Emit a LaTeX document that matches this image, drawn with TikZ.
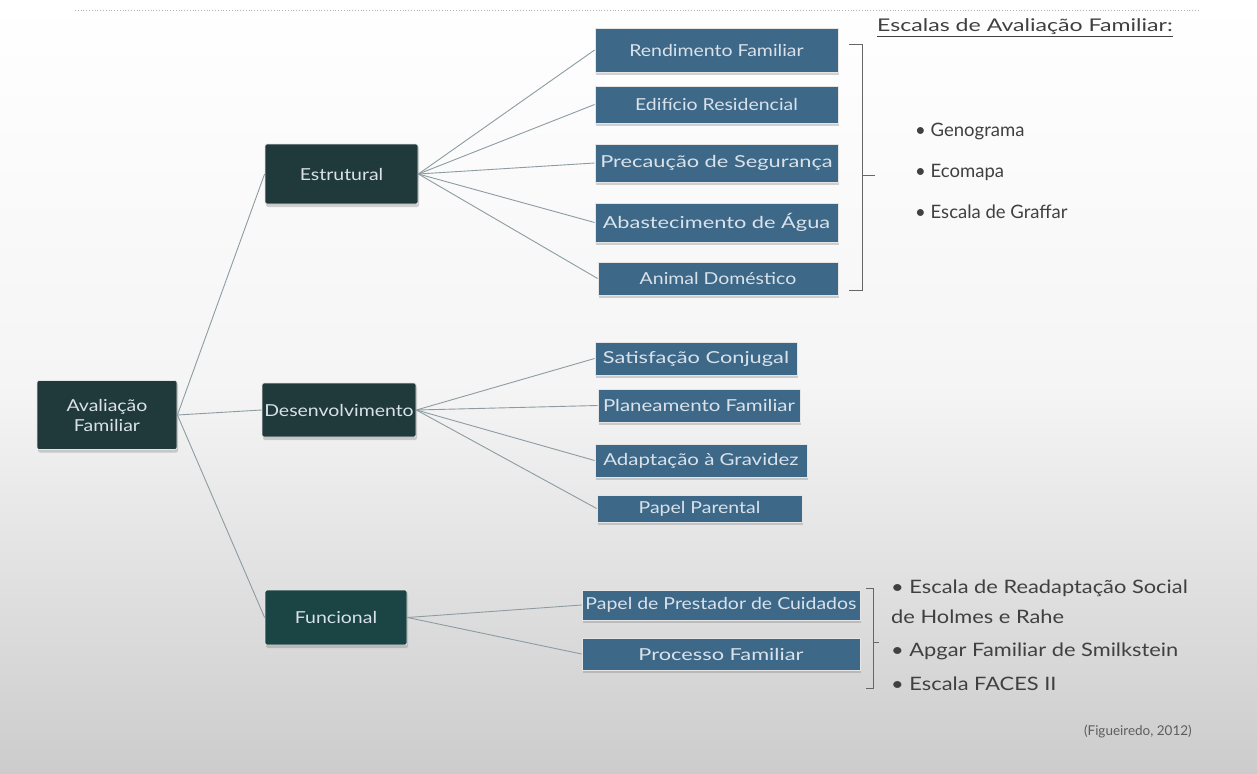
\documentclass[tikz,border=0pt]{standalone}
\usepackage{fontspec}
\setmainfont{Lato}
\newfontfamily\wideA[FakeStretch=1.18]{Lato}
\newfontfamily\wideB[FakeStretch=1.32]{Lato}
\newfontfamily\wideC[FakeStretch=1.24]{Lato}
\usetikzlibrary{shadows}
\definecolor{darkbox}{HTML}{20393A}
\definecolor{bluebox}{HTML}{3D6888}
\definecolor{boxtext}{HTML}{D9E2EA}
\definecolor{linecol}{HTML}{8C9CA2}
\definecolor{txtgray}{HTML}{404040}
\tikzset{
  basebox/.style={rectangle, inner sep=0pt, align=center, text=boxtext,
    draw=white!80!gray, line width=0.8pt,
    drop shadow={shadow xshift=1pt, shadow yshift=-3pt, fill=gray, opacity=0.35}},
  darkbx/.style={basebox, fill=darkbox, rounded corners=2pt, font=\wideA\fontsize{16.5}{20}\selectfont},
  bluebx/.style={basebox, fill=bluebox, font=\wideA\fontsize{16.5}{19}\selectfont},
  widebx/.style={bluebx, font=\wideB\fontsize{16.5}{19}\selectfont},
  midbx/.style={bluebx, font=\wideC\fontsize{16.5}{19}\selectfont},
  conn/.style={draw=linecol, line width=0.9pt},
  brack/.style={draw=txtgray!80, line width=0.9pt},
  bullettxt/.style={anchor=west, inner sep=0pt, text=txtgray, font=\fontsize{18.5}{21}\selectfont},
  bullettxtw/.style={bullettxt, font=\wideA\fontsize{18.5}{21}\selectfont}
}
\begin{document}
\begin{tikzpicture}[x=1pt,y=-1pt]
\useasboundingbox (0,0) rectangle (1257,773);
\shade[top color=white, bottom color=gray!40, middle color=gray!8] (0,0) rectangle (1257,773);
\draw[gray!60, dotted, line width=0.8pt] (75,10) -- (1200,10);

% level 0
\node[darkbx, minimum width=140pt, minimum height=69pt] (av) at (107,415) {Avaliação\\Familiar};
% level 1
\node[darkbx, minimum width=153pt, minimum height=60pt] (es) at (341.5,174) {Estrutural};
\node[darkbx, minimum width=154pt, minimum height=54pt] (de) at (339,410) {Desenvolvimento};
\node[darkbx, minimum width=142pt, minimum height=55pt, fill=darkbox!85!teal] (fu) at (336,617.5) {Funcional};

% Estrutural children
\node[bluebx, minimum width=243pt, minimum height=44pt] (r1) at (716.5,50) {Rendimento Familiar};
\node[bluebx, minimum width=243pt, minimum height=37pt] (r2) at (716.5,104.5) {Edifício Residencial};
\node[widebx, minimum width=243pt, minimum height=38pt] (r3) at (716.5,163) {Precaução de Segurança};
\node[widebx, minimum width=243pt, minimum height=39pt] (r4) at (716.5,222.5) {Abastecimento de Água};
\node[bluebx, minimum width=240pt, minimum height=33pt] (r5) at (718,278.5) {Animal Doméstico};

% Desenvolvimento children
\node[widebx, minimum width=202pt, minimum height=33pt] (d1) at (696,358.5) {Satisfação Conjugal};
\node[midbx, minimum width=202pt, minimum height=33pt] (d2) at (699,405.5) {Planeamento Familiar};
\node[midbx, minimum width=212pt, minimum height=33pt] (d3) at (701,460.5) {Adaptação à Gravidez};
\node[bluebx, minimum width=205pt, minimum height=27pt] (d4) at (699.5,508.5) {Papel Parental};

% Funcional children
\node[bluebx, minimum width=278pt, minimum height=30pt] (f1) at (721,605) {Papel de Prestador de Cuidados};
\node[widebx, minimum width=278pt, minimum height=32pt] (f2) at (721,654) {Processo Familiar};

% connectors
\draw[conn] (av.east) -- (es.west);
\draw[conn] (av.east) -- (de.west);
\draw[conn] (av.east) -- (fu.west);
\foreach \n in {r1,r2,r3,r4,r5} \draw[conn] (es.east) -- (\n.west);
\foreach \n in {d1,d2,d3,d4} \draw[conn] (de.east) -- (\n.west);
\foreach \n in {f1,f2} \draw[conn] (fu.east) -- (\n.west);

% bracket top
\draw[brack] (849,44) -- (862,44) -- (862,290) -- (849,290);
\draw[brack] (862,175) -- (875,175);
% bracket bottom
\draw[brack] (866,588) -- (873,588) -- (873,688) -- (866,688);
\draw[brack] (873,642) -- (879,642);

% texts
\node[anchor=west, inner sep=0pt, text=txtgray, font=\wideB\fontsize{17.5}{20}\selectfont] (hd) at (877,28) {\underline{Escalas de Avaliação Familiar:}};
\node[bullettxt] (b1) at (915,131) {• Genograma};
\node[bullettxt] (b2) at (915,172) {• Ecomapa};
\node[bullettxt] (b3) at (915,212) {• Escala de Graffar};

\node[bullettxtw] (c1) at (891,588) {• Escala de Readaptação Social};
\node[bullettxtw] (c2) at (891,617) {de Holmes e Rahe};
\node[bullettxtw] (c3) at (891,651) {• Apgar Familiar de Smilkstein};
\node[bullettxtw] (c4) at (891,684) {• Escala FACES II};

\node[anchor=east, inner sep=0pt, text=txtgray!85, font=\fontsize{13.5}{16}\selectfont] (ref) at (1192,731) {(Figueiredo, 2012)};
\end{tikzpicture}
\end{document}
